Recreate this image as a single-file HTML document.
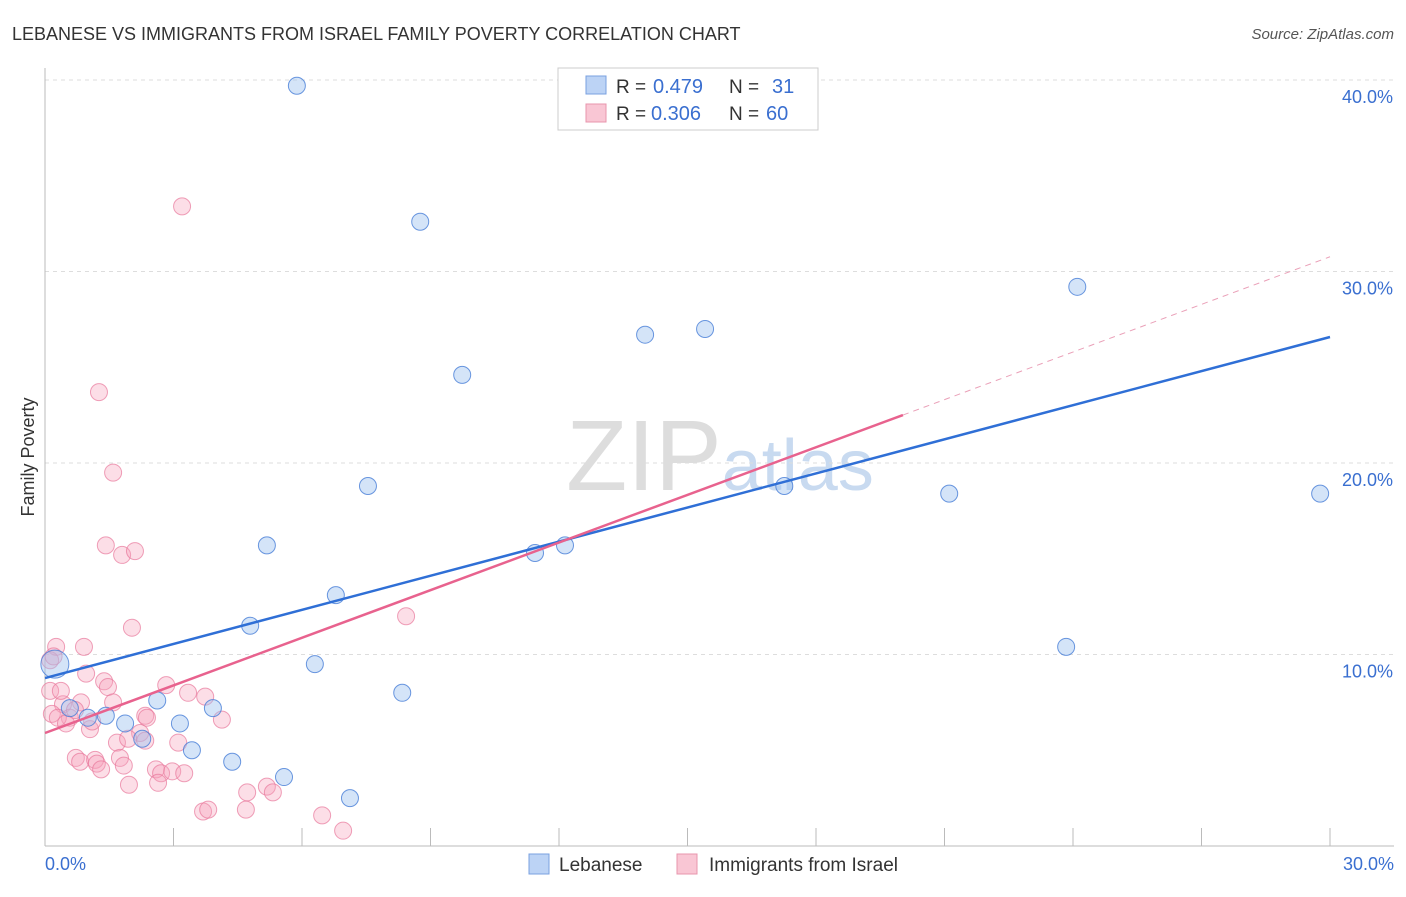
<!DOCTYPE html>
<html><head><meta charset="utf-8"><style>
body{margin:0;background:#fff;font-family:"Liberation Sans",sans-serif}
svg text{font-family:"Liberation Sans",sans-serif}
</style></head><body>
<svg width="1406" height="892">
<text x="12" y="40" font-size="18" fill="#333">LEBANESE VS IMMIGRANTS FROM ISRAEL FAMILY POVERTY CORRELATION CHART</text>
<text x="1394" y="39" font-size="15" fill="#555" font-style="italic" text-anchor="end">Source: ZipAtlas.com</text>
<text x="720" y="490" font-size="100" fill="#ddd" text-anchor="middle" font-family="Liberation Serif">ZIP<tspan fill="#c8daf0" font-family="Liberation Sans" font-size="72">atlas</tspan></text>
<g id="grid"></g><g id="axes"></g><g id="pts"></g><g id="lines"></g>
<text transform="translate(34,457) rotate(-90)" font-size="18" fill="#333" text-anchor="middle">Family Poverty</text>
<text x="45" y="870" font-size="18" fill="#3a6fd0">0.0%</text>
<text x="1394" y="870" font-size="18" fill="#3a6fd0" text-anchor="end">30.0%</text>
<g>
<rect x="558" y="68" width="260" height="62" fill="#fff" stroke="#ccc"/>
<rect x="586" y="76" width="20" height="18" fill="#bcd3f5" stroke="#7aa0e0"/>
<rect x="586" y="104" width="20" height="18" fill="#f9c6d4" stroke="#e895ad"/>
<text x="616" y="93" font-size="19" fill="#333">R =</text><text x="653" y="93" font-size="20" fill="#3a6fd0">0.479</text>
<text x="729" y="93" font-size="19" fill="#333">N =</text><text x="772" y="93" font-size="20" fill="#3a6fd0">31</text>
<text x="616" y="120" font-size="19" fill="#333">R =</text><text x="651" y="120" font-size="20" fill="#3a6fd0">0.306</text>
<text x="729" y="120" font-size="19" fill="#333">N =</text><text x="766" y="120" font-size="20" fill="#3a6fd0">60</text>
</g>
<g>
<rect x="529" y="854" width="20" height="20" fill="#bcd3f5" stroke="#7aa0e0"/>
<text x="559" y="871" font-size="19" fill="#333">Lebanese</text>
<rect x="677" y="854" width="20" height="20" fill="#f9c6d4" stroke="#e895ad"/>
<text x="709" y="871" font-size="19" fill="#333">Immigrants from Israel</text>
</g>
</svg>
<script>
const yTicks=[10,20,30,40];
const xTicks=[0,3,6,9,12,15,18,21,24,27,30];
const blueX=[5.88,8.76,9.74,14.01,15.41,24.10,7.54,17.26,21.11,29.77,5.18,11.44,12.14,6.79,4.79,23.84,6.30,8.34,0.23,2.62,3.92,0.58,1.00,1.42,1.87,3.15,2.27,3.43,4.37,5.58,7.12];
const blueY=[39.7,32.6,24.6,26.7,27.0,29.2,18.8,18.8,18.4,18.4,15.7,15.3,15.7,13.1,11.5,10.4,9.5,8.0,9.5,7.6,7.2,7.2,6.7,6.8,6.4,6.4,5.6,5.0,4.4,3.6,2.5];
const pinkX=[3.20,15.90,1.26,1.59,1.42,1.80,2.10,8.43,2.03,0.26,0.91,0.12,0.96,0.12,1.38,1.47,2.83,3.34,3.74,0.84,0.42,1.59,0.16,0.58,0.70,0.30,0.49,1.05,2.34,2.38,4.13,1.68,2.22,1.94,2.34,3.11,0.72,0.82,1.17,1.21,1.75,1.84,1.31,2.59,2.71,2.97,3.25,2.64,1.96,5.18,5.32,4.72,4.69,3.69,3.81,6.47,6.96,0.37,0.20,1.10];
const pinkY=[33.4,38.6,23.7,19.5,15.7,15.2,15.4,12.0,11.4,10.4,10.4,9.7,9.0,8.1,8.6,8.3,8.4,8.0,7.8,7.5,7.4,7.5,6.9,6.7,7.1,6.7,6.4,6.1,6.8,6.7,6.6,5.4,5.9,5.6,5.5,5.4,4.6,4.4,4.5,4.3,4.6,4.2,4.0,4.0,3.8,3.9,3.8,3.3,3.2,3.1,2.8,2.8,1.9,1.8,1.9,1.6,0.8,8.1,9.9,6.5];
const blueFit=[8.77,26.58];
const pinkFit=[5.90,30.77];
const pinkSolidEnd=20.03;
const X=v=>45+v/30*1285, Y=v=>846-v*19.15;
const NS="http://www.w3.org/2000/svg";
function mk(p,t,a){const e=document.createElementNS(NS,t);for(const k in a)e.setAttribute(k,a[k]);document.getElementById(p).appendChild(e);return e;}
yTicks.forEach(v=>{
 const l=mk('grid','line',{x1:45,x2:1394,y1:Y(v),y2:Y(v),stroke:'#ddd','stroke-dasharray':'4,4'});
 
 
 const t=mk('grid','text',{x:1393,y:Y(v)+23,'font-size':18,fill:'#3a6fd0','text-anchor':'end'});
 t.textContent=v.toFixed(1)+'%';
 
 
});
const ax=mk('axes','line',{x1:45,x2:45,y1:68,y2:846,stroke:'#bbb'});


const bx=mk('axes','line',{x1:45,x2:1394,y1:846,y2:846,stroke:'#bbb'});


xTicks.forEach(v=>{
 const l=mk('axes','line',{x1:X(v),x2:X(v),y1:828,y2:846,stroke:'#bbb'});
 
 
});
pinkX.forEach((x,i)=>{
 const c=mk('pts','circle',{cx:X(x),cy:Y(pinkY[i]),r:8.5,fill:'rgba(245,160,185,0.35)',stroke:'rgba(232,120,155,0.7)','stroke-width':1});
 
 
});
blueX.forEach((x,i)=>{
 const c=mk('pts','circle',{cx:X(x),cy:Y(blueY[i]),r:i==18?14:8.5,fill:'rgba(160,195,240,0.45)',stroke:'rgba(70,125,215,0.8)','stroke-width':1});
 
 
});
const bl=mk('lines','line',{x1:X(0),y1:Y(blueFit[0]),x2:X(30),y2:Y(blueFit[1]),stroke:'#2f6fd6','stroke-width':2.5});


const pe=pinkFit[0]+(pinkFit[1]-pinkFit[0])*pinkSolidEnd/30;
const pl=mk('lines','line',{x1:X(0),y1:Y(pinkFit[0]),x2:X(pinkSolidEnd),y2:Y(pe),stroke:'#e8628e','stroke-width':2.5});


const pd=mk('lines','line',{x1:X(pinkSolidEnd),y1:Y(pe),x2:X(30),y2:Y(pinkFit[1]),stroke:'#eaa0b8','stroke-width':1,'stroke-dasharray':'6,5'});


</script>
</body></html>
